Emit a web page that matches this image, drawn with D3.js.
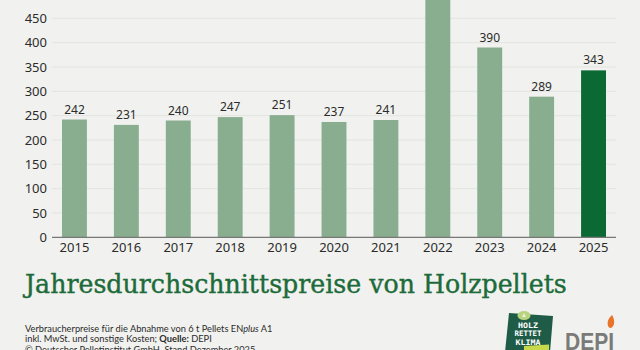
<!DOCTYPE html>
<html lang="de">
<head>
<meta charset="utf-8">
<script src="https://cdn.jsdelivr.net/npm/d3@7"></script>
<style>
  html, body { margin: 0; padding: 0; background: #f1f2ef; }
  svg { display: block; }
</style>
</head>
<body>
<svg id="chart" width="640" height="350"></svg>
<script>
// Jahresdurchschnittspreise (€/t) für Holzpellets
const years = ["2015","2016","2017","2018","2019","2020","2021","2022","2023","2024","2025"];
const prices = [242, 231, 240, 247, 251, 237, 241, 497, 390, 289, 343];
const yTicks = [0, 50, 100, 150, 200, 250, 300, 350, 400, 450];
const highlightYear = "2025";

const titleText = "Jahresdurchschnittspreise von Holzpellets";
const noteLines = [
  ["Verbraucherpreise für die Abnahme von 6 t Pellets EN", "plus", " A1"],
  ["inkl. MwSt. und sonstige Kosten; ", "Quelle:", " DEPI"],
  ["© Deutscher Pelletinstitut GmbH, Stand Dezember 2025"]
];

const svg = d3.select("#chart");
const W = 640, H = 350;

svg.append("rect").attr("width", W).attr("height", H).attr("fill", "#f1f2ef");

const x = d3.scaleBand().domain(years).range([48.5, 619.5]).paddingInner(0.52).paddingOuter(0.26);
const y = d3.scaleLinear().domain([0, 450]).range([237.3, 18.3]);

const gridLeft = 52, gridRight = 616;

// Gitterlinien
svg.append("g").selectAll("line").data(yTicks.filter(t => t > 0)).join("line")
  .attr("x1", gridLeft).attr("x2", gridRight)
  .attr("y1", d => y(d)).attr("y2", d => y(d))
  .attr("stroke", "#e2e4e0").attr("stroke-width", 1);

// Balken
const plot = svg.append("g");
plot.selectAll("rect").data(years).join("rect")
  .attr("x", d => x(d))
  .attr("width", x.bandwidth())
  .attr("y", (d, i) => y(prices[i]))
  .attr("height", (d, i) => y(0) - y(prices[i]))
  .attr("fill", d => d === highlightYear ? "#0b6a33" : "#89ae8f");

// Werte über den Balken (nur wo innerhalb der Zeichenfläche)
const labelled = years.map((d, i) => ({ year: d, value: prices[i] }))
  .filter(d => y(d.value) - 6 > 10);
plot.selectAll("text").data(labelled).join("text")
  .attr("x", d => x(d.year) + x.bandwidth() / 2)
  .attr("y", d => y(d.value) - 6)
  .attr("text-anchor", "middle")
  .attr("font-family", "'Noto Sans', sans-serif")
  .attr("font-size", 12)
  .attr("fill", "#2b2b2b")
  .text(d => d.value);

// Y-Achse
const yAxis = d3.axisLeft(y).tickValues(yTicks).tickSize(0).tickPadding(0);
const gy = svg.append("g").attr("transform", `translate(47,0)`).call(yAxis);
gy.select(".domain").remove();
gy.selectAll("text")
  .attr("font-family", "'Noto Sans', sans-serif")
  .attr("font-size", 13)
  .attr("fill", "#2b2b2b");

// X-Achse
const xAxis = d3.axisBottom(x).tickSize(0).tickPadding(5);
const gx = svg.append("g").attr("transform", `translate(0,${y(0)})`).call(xAxis);
gx.select(".domain").remove();
gx.selectAll("text")
  .attr("font-family", "'Noto Sans', sans-serif")
  .attr("font-size", 13)
  .attr("fill", "#2b2b2b");
svg.append("line")
  .attr("x1", gridLeft).attr("x2", gridRight)
  .attr("y1", y(0)).attr("y2", y(0))
  .attr("stroke", "#777").attr("stroke-width", 1.2);

// Titel (Serifenschrift)
const title = svg.append("text")
  .attr("x", 25).attr("y", 293)
  .attr("font-family", "'DejaVu Serif', 'Liberation Serif', serif")
  .attr("font-size", 26)
  .attr("fill", "#1d6b3a")
  .attr("stroke", "#1d6b3a")
  .attr("stroke-width", 0.4)
  .text(titleText);
const tw = title.node().getComputedTextLength();
title.attr("font-size", 26 * 542 / tw);

// Fußnote
const note = svg.append("g")
  .attr("font-family", "Lato, 'Noto Sans', sans-serif")
  .attr("font-size", 10)
  .attr("fill", "#2b2b2b");
const noteTexts = noteLines.map((parts, i) => {
  const t = note.append("text").attr("x", 25).attr("y", 332 + i * 10.3);
  parts.forEach(p => {
    const s = t.append("tspan").text(p);
    if (p === "plus") s.attr("font-style", "italic");
    if (p === "Quelle:") s.attr("font-weight", "bold");
  });
  return t;
});
const nw = noteTexts[0].node().getComputedTextLength();
note.attr("font-size", 10 * 248 / nw);

// Logo "Holz rettet Klima"
const logo = svg.append("g");
logo.append("path")
  .attr("d", "M509,313 L553,316 L550,352 L505,352 Z")
  .attr("fill", "#1e5c47");
logo.append("ellipse").attr("cx", 524).attr("cy", 315.5).attr("rx", 6.5).attr("ry", 4.5).attr("fill", "#b9d47e");
logo.append("path").attr("d", "M522,317 l2,-4 l2,4 z").attr("fill", "#e9f1d6");
["HOLZ", "RETTET", "KLIMA"].forEach((w, i) => {
  logo.append("text")
    .attr("x", 528).attr("y", 327.5 + i * 8.8)
    .attr("text-anchor", "middle")
    .attr("font-family", "'DejaVu Sans Mono', monospace")
    .attr("font-weight", "bold")
    .attr("font-size", 7.5)
    .attr("textLength", [20, 27, 25][i])
    .attr("lengthAdjust", "spacingAndGlyphs")
    .attr("fill", "#ffffff")
    .text(w);
});
logo.append("path").attr("d", "M524,346 L549,344.5 L549,350 L524,351 Z").attr("fill", "#c7d94a");

// Logo DEPI
const depi = svg.append("text")
  .attr("x", 565).attr("y", 350)
  .attr("font-family", "'Liberation Sans Narrow', 'Liberation Sans', sans-serif")
  .attr("font-weight", "bold")
  .attr("font-size", 24)
  .attr("fill", "#7a7a78")
  .attr("textLength", 49)
  .attr("lengthAdjust", "spacingAndGlyphs")
  .text("DEPI");
svg.append("path")
  .attr("d", "M612,315 C606,320 607,327 610,328 C614,328 616,321 612,315 Z")
  .attr("fill", "#e8742a");
</script>
</body>
</html>
